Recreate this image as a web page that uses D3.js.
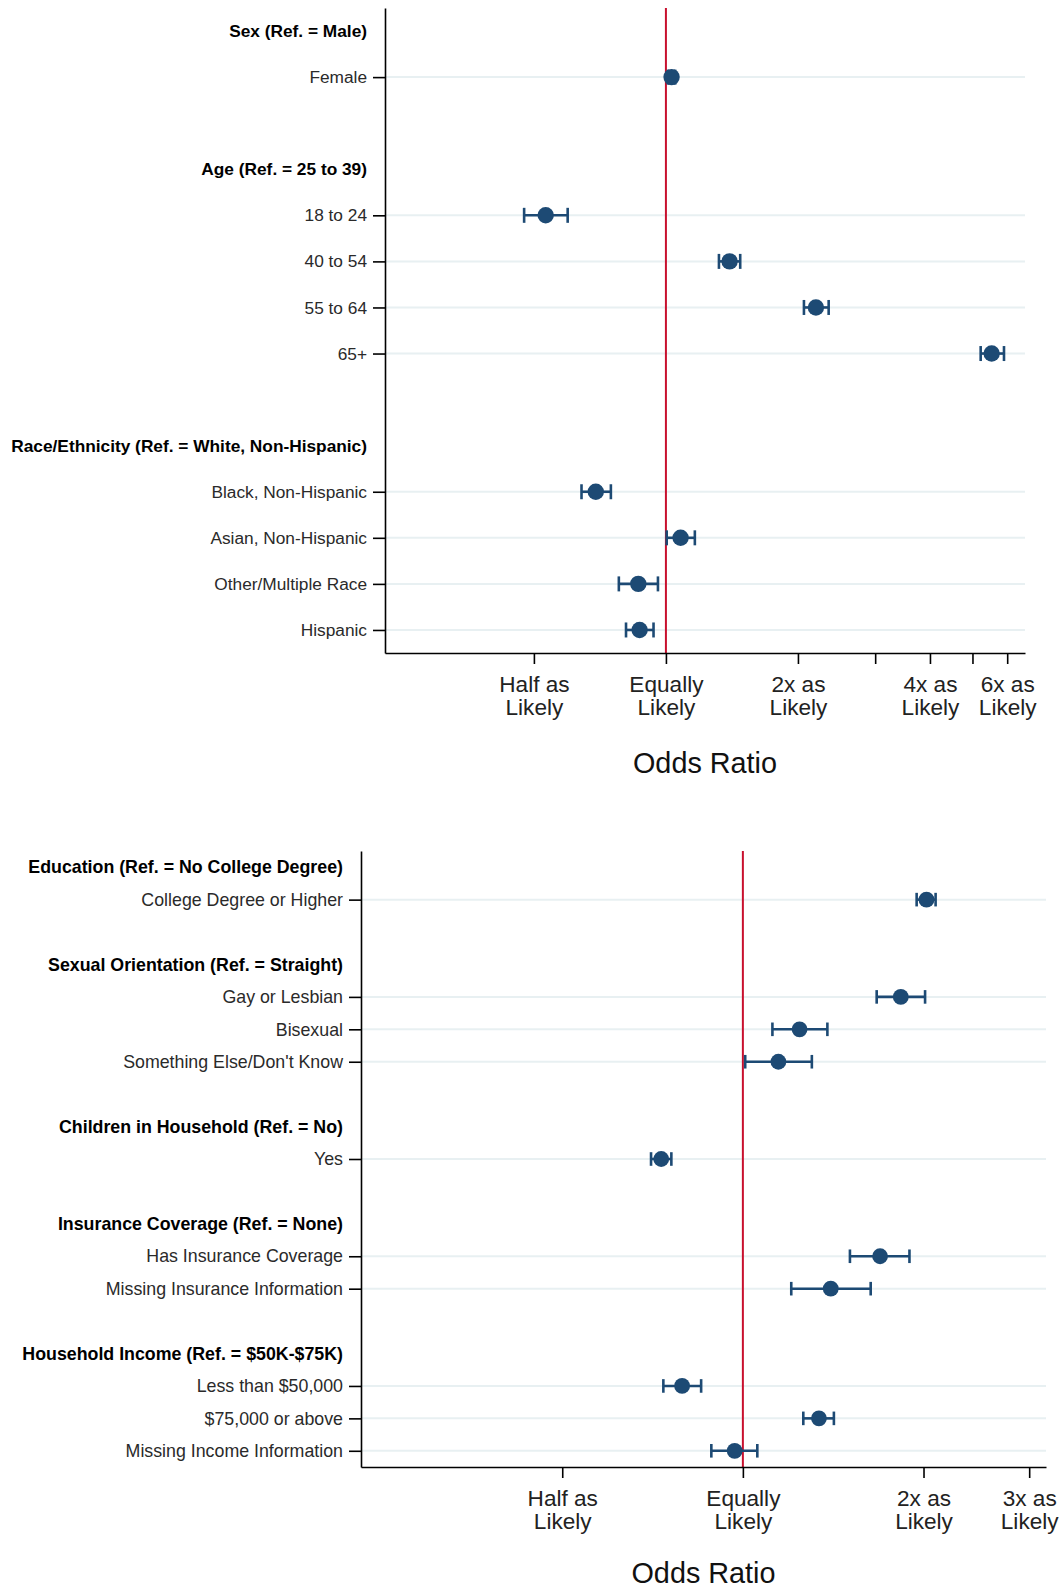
<!DOCTYPE html>
<html><head><meta charset="utf-8">
<script src="https://cdn.jsdelivr.net/npm/d3@7"></script>
<style>
body{margin:0;background:#fff;}
svg{display:block;font-family:"Liberation Sans",Arial,sans-serif;}
</style>
</head><body>
<svg id="chart" width="1063" height="1588"></svg>
<script>
// ---------- Panel 1 data ----------
const topLabels = [
  "Sex (Ref. = Male)", "Female", "",
  "Age (Ref. = 25 to 39)", "18 to 24", "40 to 54", "55 to 64", "65+", "",
  "Race/Ethnicity (Ref. = White, Non-Hispanic)", "Black, Non-Hispanic", "Asian, Non-Hispanic", "Other/Multiple Race", "Hispanic"
];
const topOR    = [null, 1.03, null, null, 0.532, 1.397, 2.198, 5.53, null, null, 0.692, 1.080, 0.865, 0.871];
const topLower = [null, 1.01, null, null, 0.475, 1.321, 2.064, 5.22, null, null, 0.642, 1.004, 0.781, 0.811];
const topUpper = [null, 1.05, null, null, 0.597, 1.477, 2.350, 5.90, null, null, 0.749, 1.164, 0.959, 0.937];
const topTickValues = [0.5, 1, 2, 3, 4, 5, 6];
const topTickLabels = [["Half as","Likely"],["Equally","Likely"],["2x as","Likely"],[],["4x as","Likely"],[],["6x as","Likely"]];

// ---------- Panel 2 data ----------
const botLabels = [
  "Education (Ref. = No College Degree)", "College Degree or Higher", "",
  "Sexual Orientation (Ref. = Straight)", "Gay or Lesbian", "Bisexual", "Something Else/Don't Know", "",
  "Children in Household (Ref. = No)", "Yes", "",
  "Insurance Coverage (Ref. = None)", "Has Insurance Coverage", "Missing Insurance Information", "",
  "Household Income (Ref. = $50K-$75K)", "Less than $50,000", "$75,000 or above", "Missing Income Information"
];
const botOR    = [null, 2.023, null, null, 1.833, 1.243, 1.146, null, null, 0.731, null, null, 1.693, 1.401, null, null, 0.792, 1.339, 0.969];
const botLower = [null, 1.948, null, null, 1.671, 1.120, 1.009, null, null, 0.703, null, null, 1.508, 1.204, null, null, 0.737, 1.261, 0.886];
const botUpper = [null, 2.095, null, null, 2.012, 1.383, 1.303, null, null, 0.760, null, null, 1.895, 1.633, null, null, 0.852, 1.418, 1.057];
const botTickValues = [0.5, 1, 2, 3];
const botTickLabels = [["Half as","Likely"],["Equally","Likely"],["2x as","Likely"],["3x as","Likely"]];

const axisTitle = "Odds Ratio";

const DOT = "#1d4a74", REF = "#c8102e", GRID = "#e8f0f2";
const svg = d3.select("#chart");

function drawPanel(p) {
  const g = svg.append("g");
  const x = d3.scaleLog().domain(p.xDomain).range([p.left, p.right]);
  const y = d3.scalePoint().domain(d3.range(p.labels.length)).range([p.top, p.bottom]).padding(0.5);
  const rows = p.labels.map((l, i) => ({i, label: l, or: p.or[i], lo: p.lo[i], hi: p.hi[i]}));
  const items = rows.filter(r => r.or != null);
  const headers = rows.filter(r => r.or == null && r.label);

  // gridlines
  g.selectAll("line.grid").data(items).join("line").attr("class","grid")
    .attr("x1", p.left).attr("x2", p.right)
    .attr("y1", d => y(d.i)).attr("y2", d => y(d.i))
    .attr("stroke", GRID).attr("stroke-width", 2);

  // reference line
  g.append("line").attr("x1", x(1)).attr("x2", x(1))
    .attr("y1", p.top).attr("y2", p.bottom)
    .attr("stroke", REF).attr("stroke-width", 2);

  // x axis
  const xa = g.append("g").attr("transform", `translate(0,${p.bottom})`)
    .call(d3.axisBottom(x).tickValues(p.ticks).tickSize(11).tickSizeOuter(0).tickFormat(""));
  xa.select(".domain").attr("stroke", "#000").attr("stroke-width", 1.6);
  xa.selectAll(".tick line").attr("stroke", "#000").attr("stroke-width", 1.6);
  xa.selectAll(".tick").each(function(d, i) {
    const lines = p.tickLabels[i];
    const t = d3.select(this).append("text").attr("fill", "#222")
      .attr("font-size", 22.6).attr("text-anchor", "middle");
    lines.forEach((s, k) => t.append("tspan").attr("x", 0).attr("y", 39 + k * 22.5).text(s));
  });

  // y axis
  const ya = g.append("g").attr("transform", `translate(${p.left},0)`)
    .call(d3.axisLeft(y).tickValues(items.map(d => d.i)).tickSize(12).tickSizeOuter(0).tickPadding(6)
      .tickFormat(i => p.labels[i]));
  ya.select(".domain").attr("stroke", "#000").attr("stroke-width", 1.6);
  ya.selectAll(".tick line").attr("stroke", "#000").attr("stroke-width", 1.6);
  ya.selectAll(".tick text").attr("font-size", p.fs).attr("fill", "#2a2a2a")
    .attr("font-family", "Liberation Sans, Arial, sans-serif");

  // group headers
  g.selectAll("text.hdr").data(headers).join("text").attr("class","hdr")
    .attr("x", p.left - 18).attr("y", d => y(d.i)).attr("dy", "0.35em")
    .attr("text-anchor", "end").attr("font-size", p.fs).attr("font-weight", "bold")
    .attr("fill", "#000").text(d => d.label);

  // CIs
  const ci = g.selectAll("g.ci").data(items).join("g").attr("class","ci")
    .attr("stroke", DOT).attr("stroke-width", 2.6);
  ci.append("line").attr("x1", d => x(d.lo)).attr("x2", d => x(d.hi))
    .attr("y1", d => y(d.i)).attr("y2", d => y(d.i));
  ci.append("line").attr("x1", d => x(d.lo)).attr("x2", d => x(d.lo))
    .attr("y1", d => y(d.i) - p.cap).attr("y2", d => y(d.i) + p.cap);
  ci.append("line").attr("x1", d => x(d.hi)).attr("x2", d => x(d.hi))
    .attr("y1", d => y(d.i) - p.cap).attr("y2", d => y(d.i) + p.cap);

  // points
  g.selectAll("circle.pt").data(items).join("circle").attr("class","pt")
    .attr("cx", d => x(d.or)).attr("cy", d => y(d.i)).attr("r", p.r).attr("fill", DOT);

  // axis title
  g.append("text").attr("x", (p.left + p.right) / 2).attr("y", p.titleY)
    .attr("text-anchor", "middle").attr("font-size", 28.8).attr("fill", "#111").text(axisTitle);
}

drawPanel({
  labels: topLabels, or: topOR, lo: topLower, hi: topUpper,
  ticks: topTickValues, tickLabels: topTickLabels,
  xDomain: [0.2288, 6.588], left: 385, right: 1025, top: 8, bottom: 653,
  titleY: 773, cap: 7.5, r: 8.2, fs: 17.3
});
drawPanel({
  labels: botLabels, or: botOR, lo: botLower, hi: botUpper,
  ticks: botTickValues, tickLabels: botTickLabels,
  xDomain: [0.2310, 3.20], left: 361, right: 1046, top: 851, bottom: 1467,
  titleY: 1583, cap: 6.8, r: 7.9, fs: 17.8
});
</script>
</body></html>
